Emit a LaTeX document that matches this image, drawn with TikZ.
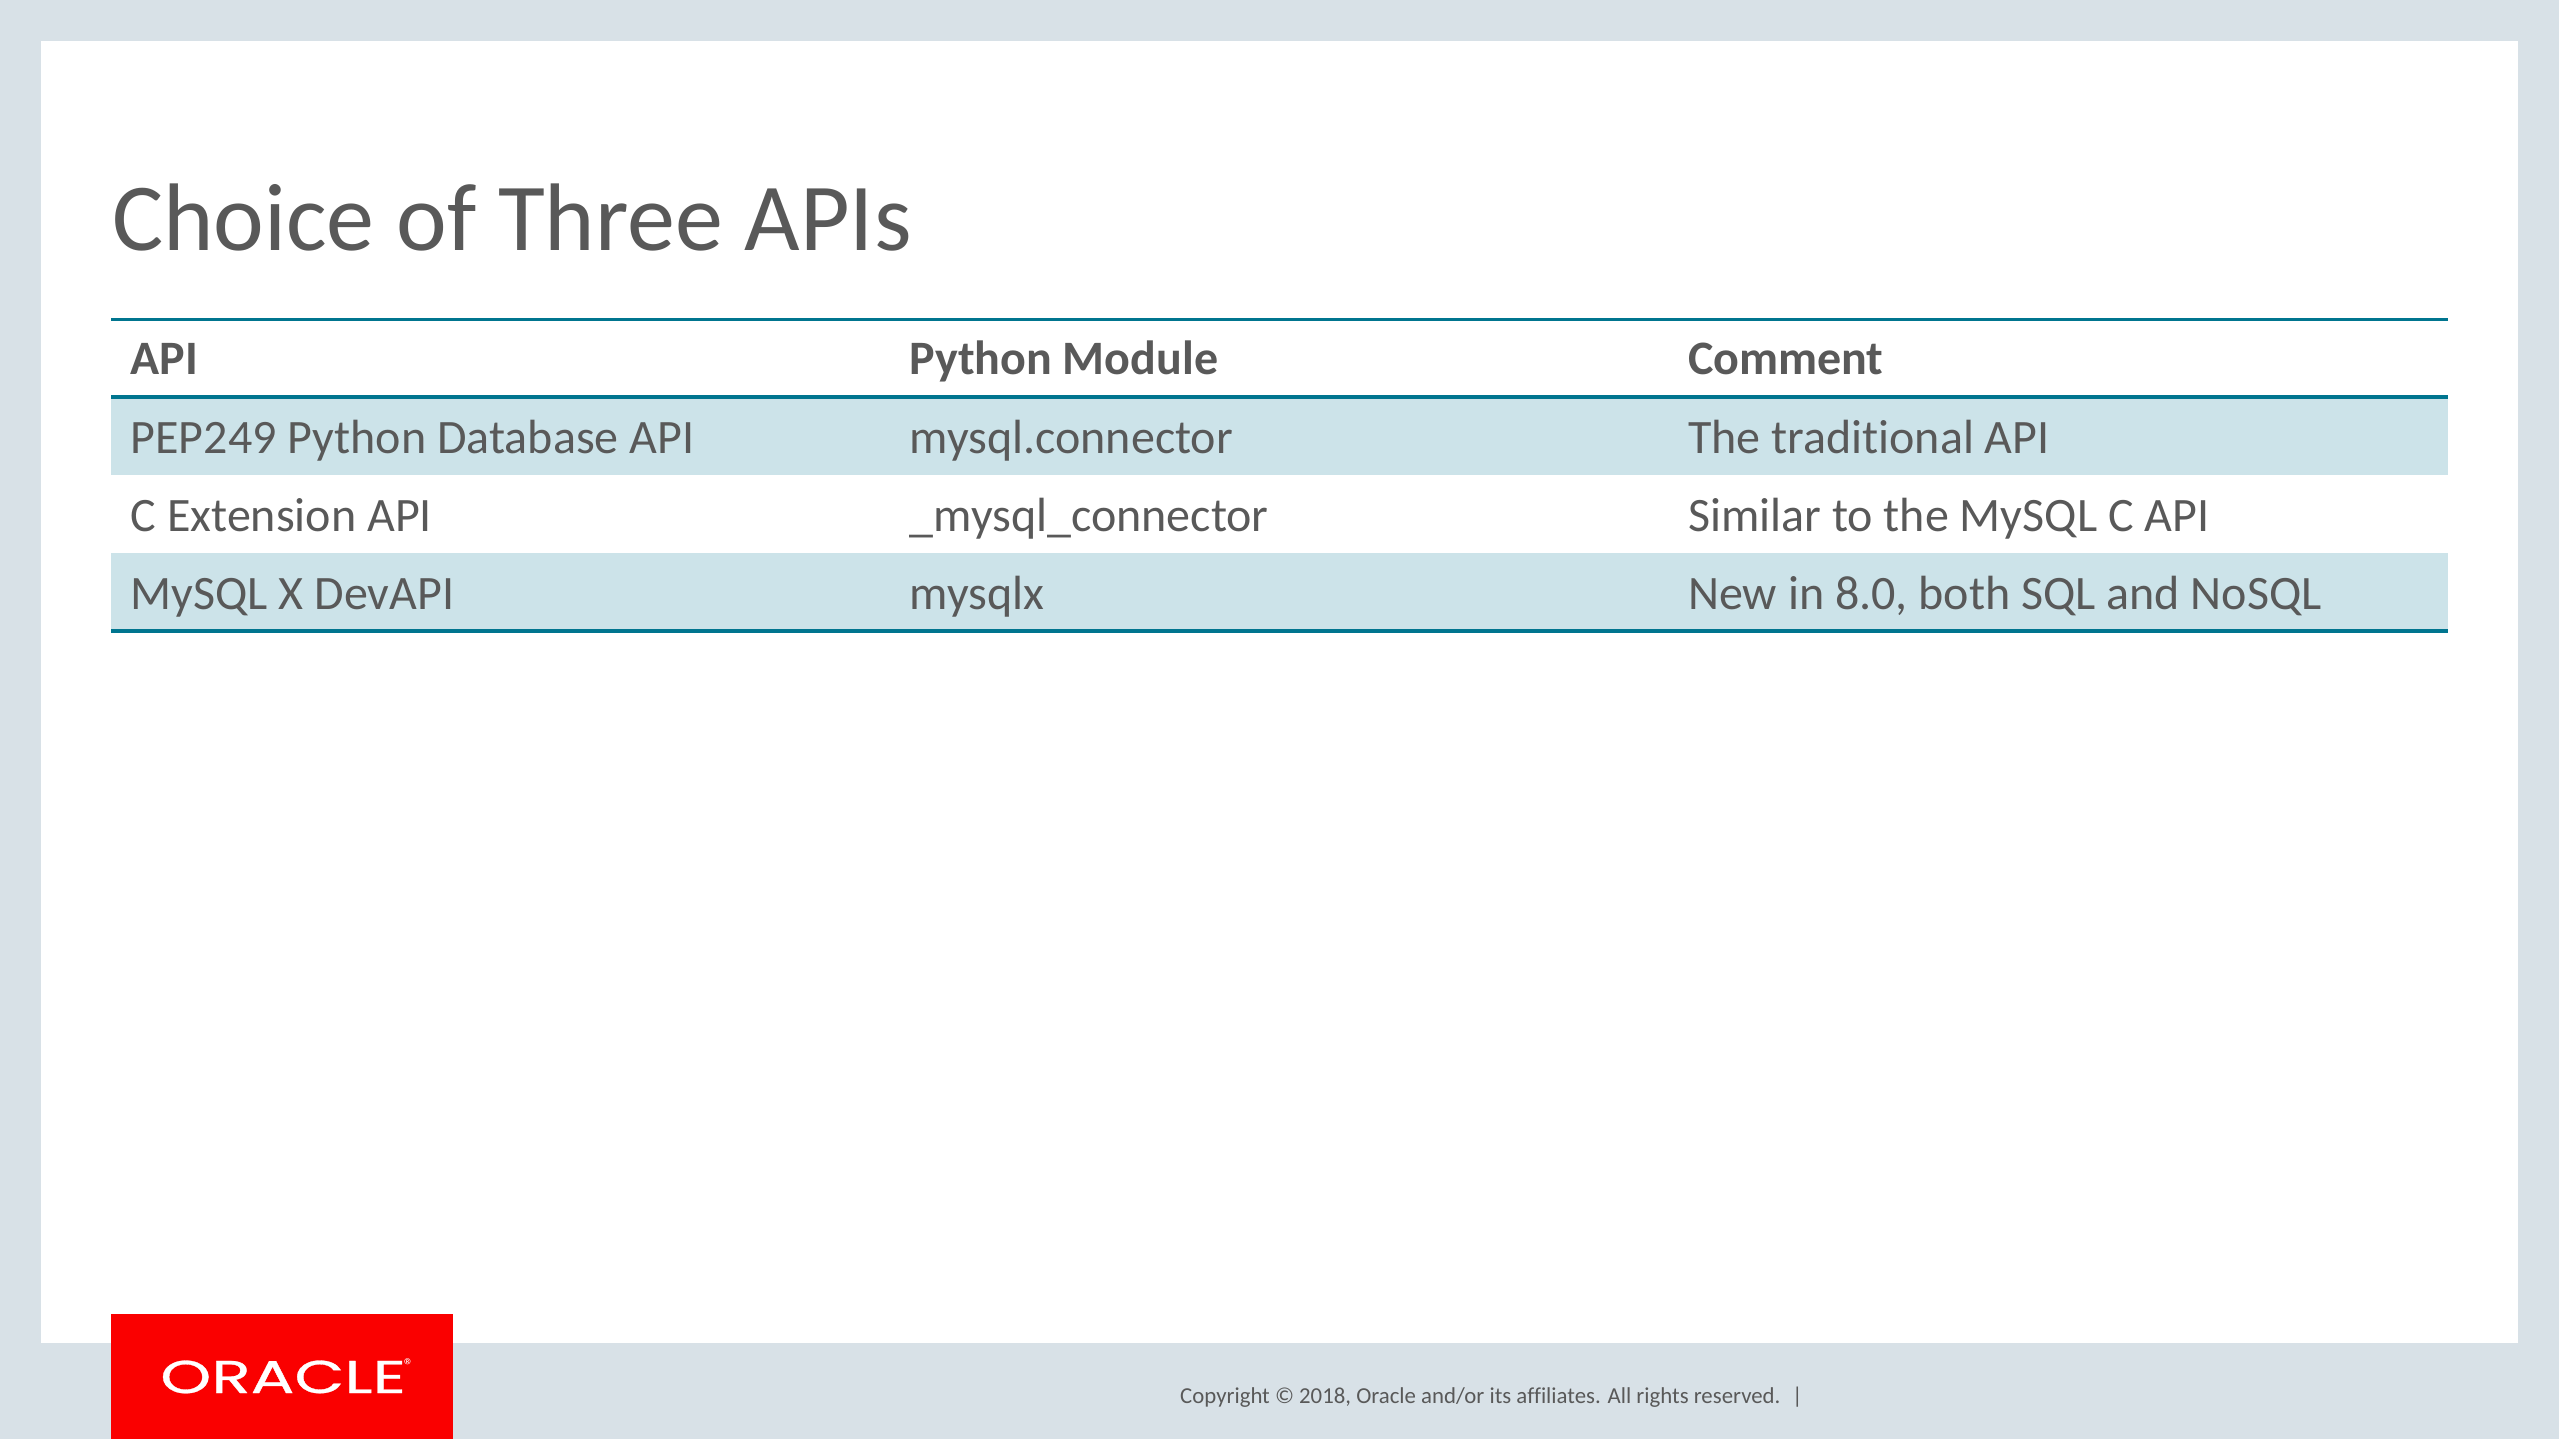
\documentclass[tikz,border=0pt]{standalone}
\usepackage{fontspec}
\setmainfont{Carlito}[Ligatures=NoCommon]
\newfontfamily\logofont[FakeBold=0.6]{Poppins}
\definecolor{slidebg}{HTML}{D8E1E7}
\definecolor{ink}{HTML}{595959}
\definecolor{rulecol}{HTML}{00758F}
\definecolor{rowfill}{HTML}{CCE3E9}
\definecolor{oraclered}{HTML}{FA0000}
\tikzset{
  cell/.style={anchor=base west,inner sep=0pt,text=ink,font=\fontsize{48}{58}\selectfont},
  headcell/.style={cell,font=\fontsize{48}{58}\selectfont\bfseries},
  titletext/.style={anchor=base west,inner sep=0pt,text=ink,font=\fontsize{96}{110}\selectfont},
  foot/.style={anchor=base west,inner sep=0pt,text=ink,font=\fontsize{22.8}{28}\selectfont},
  tablerule/.style={draw=rulecol,line width=3.5pt},
  logotext/.style={anchor=base west,inner sep=0pt,text=white,font=\logofont\fontsize{46}{50}\selectfont}
}
\begin{document}
\begin{tikzpicture}[x=1pt,y=-1pt]
\useasboundingbox (0,0) rectangle (2559,1439);
\fill[slidebg] (0,0) rectangle (2559,1439);
\fill[white] (41,41) rectangle (2518,1343);
\fill[rowfill] (111,397) rectangle (2448,475);
\fill[rowfill] (111,553) rectangle (2448,631);
\coordinate (r1a) at (111,319.5); \coordinate (r1b) at (2448,319.5);
\coordinate (r2a) at (111,397);   \coordinate (r2b) at (2448,397);
\coordinate (r3a) at (111,631);   \coordinate (r3b) at (2448,631);
\draw[tablerule] (r1a) -- (r1b);
\draw[tablerule] (r2a) -- (r2b);
\draw[tablerule] (r3a) -- (r3b);
\node[titletext] (title) at (112,251) {Choice of Three APIs};
\node[headcell] (h1) at (130.5,374) {API};
\node[headcell] (h2) at (909,374) {Python Module};
\node[headcell] (h3) at (1688,374) {Comment};
\node[cell] (a1) at (130.5,453) {PEP249 Python Database API};
\node[cell] (b1) at (909.5,453) {mysql.connector};
\node[cell] (c1) at (1688,453) {The traditional API};
\node[cell] (a2) at (130.5,531) {C Extension API};
\node[cell] (b2) at (909.5,531) {\_mysql\_connector};
\node[cell] (c2) at (1688,531) {Similar to the MySQL C API};
\node[cell] (a3) at (130.5,609) {MySQL X DevAPI};
\node[cell] (b3) at (909.5,609) {mysqlx};
\node[cell] (c3) at (1688,609) {New in 8.0, both SQL and NoSQL};
\fill[oraclered] (111,1314) rectangle (453,1439);
\node[logotext,xscale=1.41] (logo) at (160,1393) {ORACLE};
\node[anchor=center,inner sep=0pt,text=white,font=\fontsize{20}{22}\selectfont] (reg) at (409,1366) {®};
\node[foot] (copy) at (1180,1403) {Copyright © 2018, Oracle and/or its affiliates. All rights reserved.};
\node[foot] (bar) at (1792,1403) {|};
\end{tikzpicture}
\end{document}
